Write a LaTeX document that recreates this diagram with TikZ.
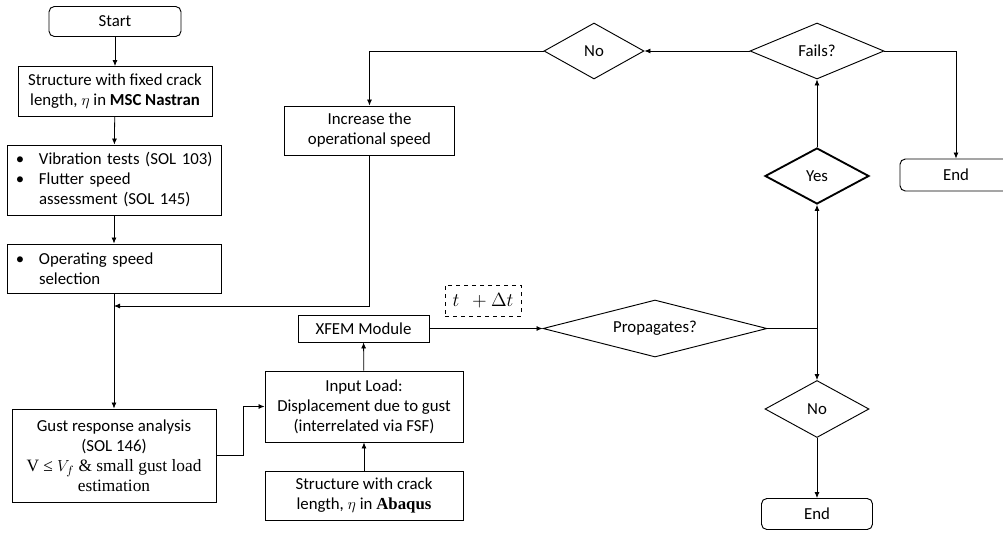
\documentclass[tikz,border=0pt]{standalone}
\usepackage{fontspec}
\setmainfont{Carlito}
\newfontfamily\tnr{Liberation Serif}
\usetikzlibrary{shapes.geometric,arrows.meta,calc}
\newlength\pxu \setlength\pxu{0.75pt}
\newcommand\bul{\makebox[23\pxu][l]{\textbullet}}
\begin{document}
\begin{tikzpicture}[x=0.75pt,y=-0.75pt,
 base/.style={draw,line width=0.7pt,font=\fontsize{12.6}{15}\selectfont,inner sep=0pt,align=center},
 box/.style={base,rectangle},
 term/.style={base,rectangle,rounded corners=4pt},
 dec/.style={base,diamond},
 arr/.style={line width=0.6pt,-{Latex[length=4.5pt,width=3.8pt]}},
 ln/.style={line width=0.6pt}]
\useasboundingbox (0,0) rectangle (1003,532);
\begin{scope}
\clip (0,0) rectangle (1003,532);
% left column
\node[term,minimum width=132\pxu,minimum height=30\pxu] (start) at (115,21.5) {Start};
\node[box,minimum width=194\pxu,minimum height=50\pxu] (b1) at (115,91.5)
  {Structure with fixed crack\\length, $\eta$ in \textbf{MSC Nastran}};
\node[box,minimum width=214\pxu,minimum height=70\pxu,align=left,text width=196\pxu] (b2) at (114,180)
  {\mbox{\bul Vibration tests (SOL 103)}\\\mbox{\bul Flutter speed}\\\mbox{\hspace*{23\pxu}assessment (SOL 145)}};
\node[box,minimum width=214\pxu,minimum height=49\pxu,align=left,text width=196\pxu] (b3) at (114,268.5)
  {\mbox{\bul Operating speed}\\\mbox{\hspace*{23\pxu}selection}};
\node[box,minimum width=204\pxu,minimum height=93\pxu] (gust) at (114,455.5)
  {Gust response analysis\\(SOL 146)\\{\tnr\fontsize{13}{15}\selectfont V ≤ $V_f$ \& small gust load}\\{\tnr\fontsize{13}{15}\selectfont estimation}};
% middle
\node[box,minimum width=170\pxu,minimum height=49\pxu] (inc) at (369.5,130.5)
  {Increase the\\operational speed};
\node[box,minimum width=131\pxu,minimum height=27\pxu] (xfem) at (363.5,328.5) {XFEM Module};
\node[box,minimum width=198\pxu,minimum height=71\pxu] (inp) at (364,406.5)
  {Input Load:\\Displacement due to gust\\(interrelated via FSF)};
\node[box,minimum width=198\pxu,minimum height=49\pxu] (abq) at (364,495.5)
  {Structure with crack\\length, $\eta$ in {\tnr\bfseries Abaqus}};
\node[box,dashed,line width=0.6pt,minimum width=76\pxu,minimum height=31\pxu,font=\fontsize{14}{16}\selectfont] (tdt) at (483,300.5)
  {$t\;\,+\Delta t$};
% decisions
\node[dec,minimum width=224\pxu,minimum height=57\pxu,aspect=3.9] (prop) at (655,328.5) {Propagates?};
\node[dec,minimum width=100\pxu,minimum height=56\pxu,aspect=1.8] (noT) at (594,51) {No};
\node[dec,minimum width=134\pxu,minimum height=56\pxu,aspect=2.4] (fails) at (817,51) {Fails?};
\node[dec,line width=1.4pt,minimum width=104\pxu,minimum height=56\pxu,aspect=1.85] (yes) at (817,176) {Yes};
\node[dec,minimum width=104\pxu,minimum height=57\pxu,aspect=1.85] (noB) at (817,409) {No};
\node[term,minimum width=111\pxu,minimum height=31\pxu] (endB) at (817,514) {End};
\node[term,minimum width=112\pxu,minimum height=32\pxu] (endR) at (956,175) {End};
% connectors
\draw[arr] (start) -- (b1);
\draw[arr] (b1) -- (b2);
\draw[arr] (b2) -- (b3);
\draw[arr] (b3.south) -- (gust.north);
\coordinate (j1) at (b3.south |- 0,306);
\draw[arr] (inc.south) |- (j1);
\draw[arr] (gust.east) -- ++(27,0) |- (inp.west);
\draw[arr] (abq) -- (inp);
\draw[arr] (inp) -- (xfem);
\draw[arr] (xfem.east) -- (prop.west);
\coordinate (j2) at (yes.south |- prop.east);
\draw[ln] (prop.east) -- (j2);
\draw[arr] (j2) -- (yes.south);
\draw[arr] (j2) -- (noB.north);
\draw[arr] (noB) -- (endB);
\draw[arr] (yes) -- (fails);
\draw[arr] (fails.east) -| (endR.north);
\draw[arr] (fails.west) -- (noT.east);
\draw[arr] (noT.west) -| (inc.north);
\end{scope}
\end{tikzpicture}
\end{document}
